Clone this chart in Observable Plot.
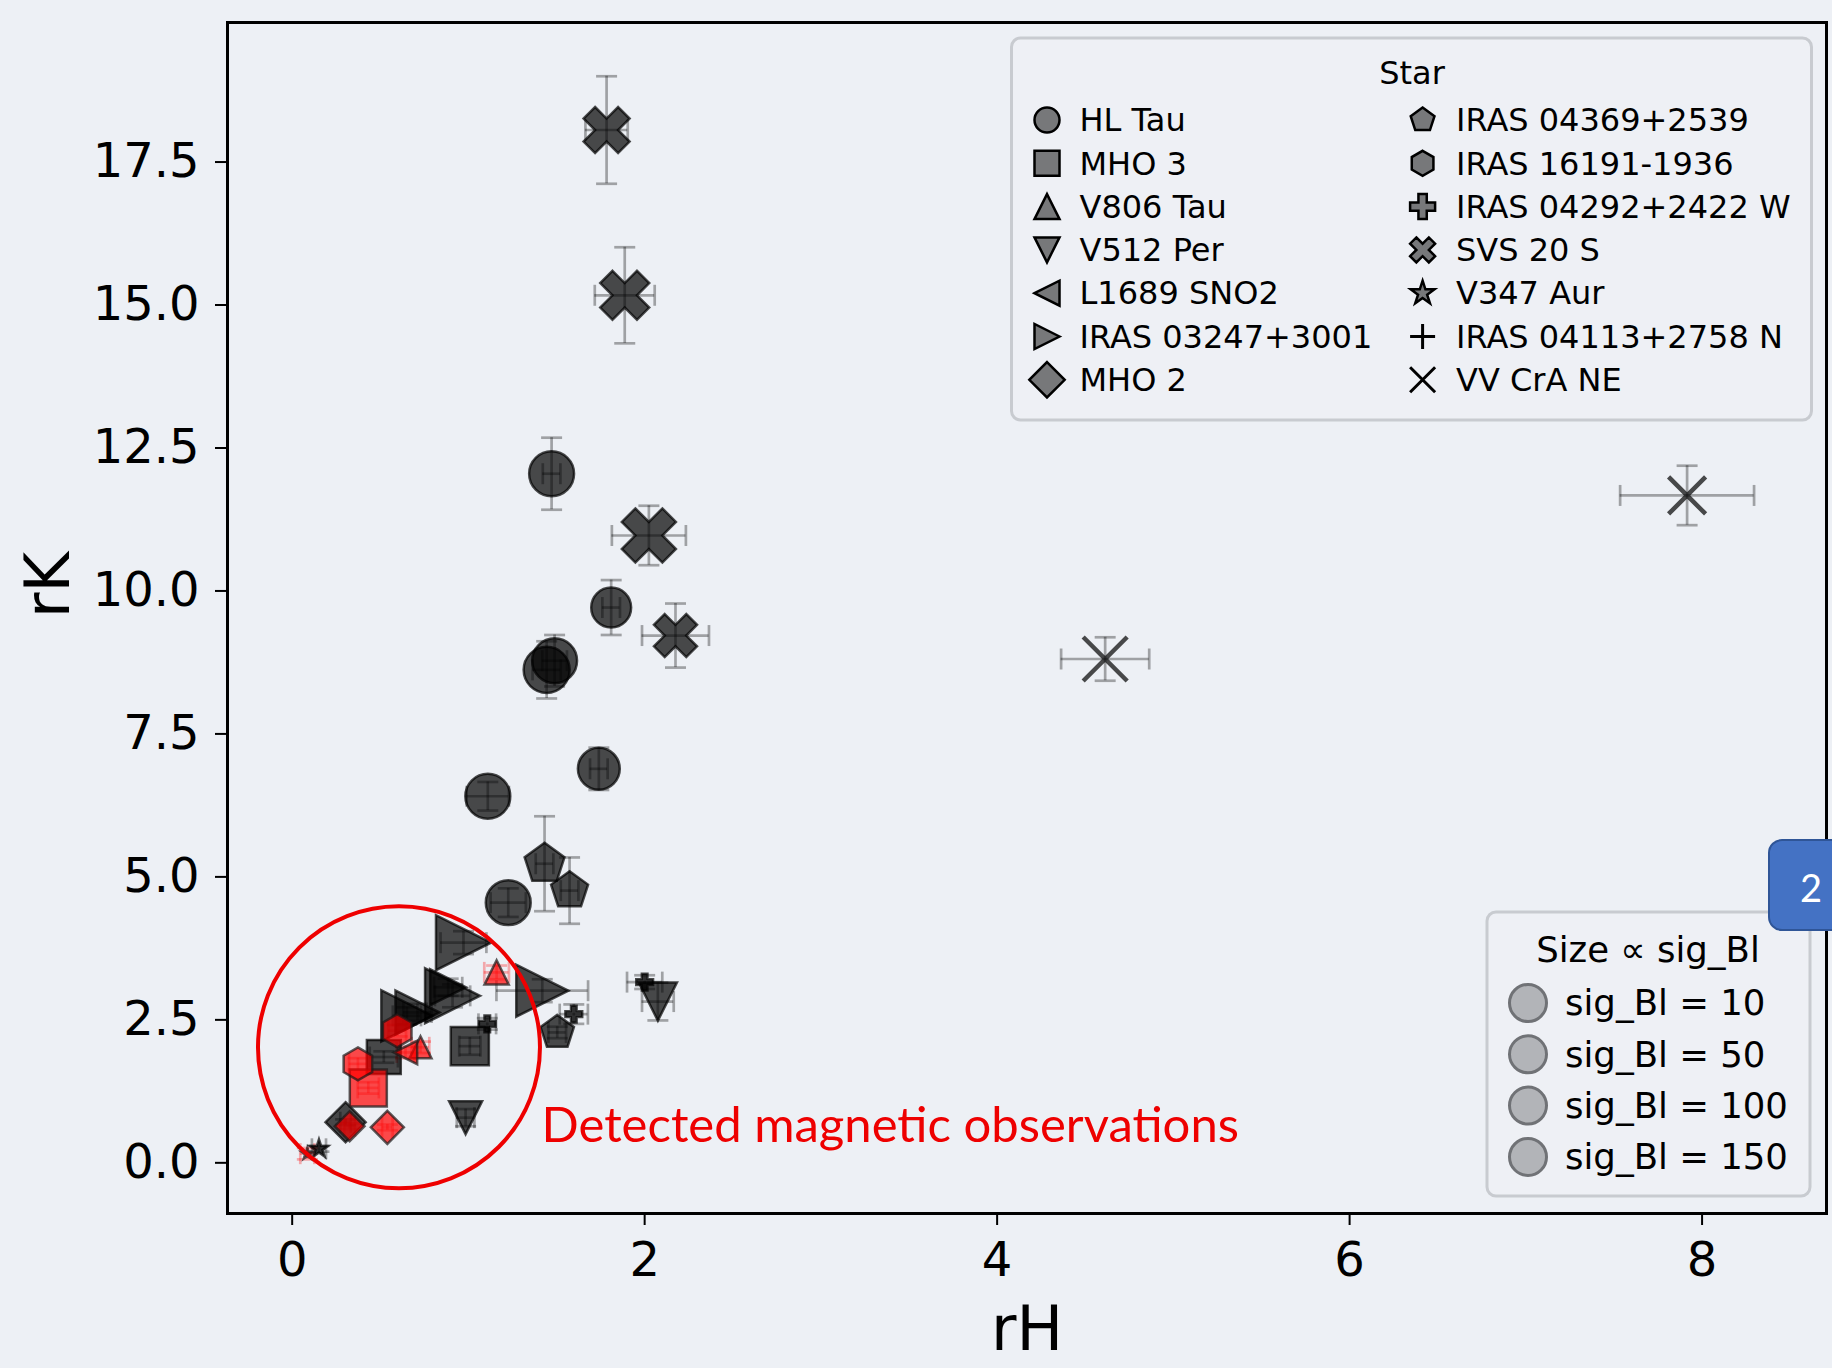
<!DOCTYPE html>
<html>
<head>
<meta charset="utf-8">
<script src="https://cdn.jsdelivr.net/npm/d3@7"></script>
<script src="https://cdn.jsdelivr.net/npm/@observablehq/plot@0.6"></script>
<style>
  html, body { margin: 0; padding: 0; background: #edf0f5; overflow: hidden; }
  #wrap { position: relative; width: 1832px; height: 1368px; }
  #badge { position: absolute; left: 1768px; top: 839px; width: 90px; height: 92px;
    background: #4472c4; border: 2px solid #2f5597; border-radius: 14px; box-sizing: border-box;
    color: #fff; font-family: Lato, sans-serif; font-size: 38px; line-height: 92px; padding-left: 30px; }
</style>
</head>
<body>
<div id="wrap"></div>
<script>
// ---------- data ----------
const stars = ["HL Tau", "MHO 3", "V806 Tau", "V512 Per", "L1689 SNO2", "IRAS 03247+3001", "MHO 2",
  "IRAS 04369+2539", "IRAS 16191-1936", "IRAS 04292+2422 W", "SVS 20 S", "V347 Aur", "IRAS 04113+2758 N", "VV CrA NE"];

const pointStar = [
  "SVS 20 S", "SVS 20 S", "HL Tau", "SVS 20 S", "HL Tau", "SVS 20 S", "HL Tau", "HL Tau", "HL Tau", "HL Tau",
  "IRAS 04369+2539", "IRAS 04369+2539", "HL Tau", "V806 Tau", "IRAS 03247+3001", "IRAS 04292+2422 W",
  "IRAS 04369+2539", "IRAS 04292+2422 W", "V512 Per", "IRAS 03247+3001", "IRAS 03247+3001", "IRAS 03247+3001",
  "IRAS 03247+3001", "IRAS 03247+3001", "IRAS 16191-1936", "V806 Tau", "L1689 SNO2", "MHO 3", "IRAS 16191-1936",
  "MHO 3", "MHO 2", "MHO 2", "MHO 2", "V347 Aur", "V347 Aur", "V512 Per", "MHO 3", "IRAS 04292+2422 W",
  "VV CrA NE", "VV CrA NE"];
const rH = [1.784, 1.887, 1.472, 2.024, 1.810, 2.175, 1.489, 1.444, 1.740, 1.110,
  1.432, 1.574, 1.226, 1.160, 1.419, 1.598, 1.504, 2.000, 2.075, 0.972,
  0.910, 0.885, 0.651, 0.711, 0.596, 0.728, 0.643, 0.520, 0.373, 0.432,
  0.303, 0.326, 0.540, 0.152, 0.086, 0.984, 1.008, 1.107, 4.613, 7.915];
const rK = [18.06, 15.17, 12.05, 10.97, 9.71, 9.22, 8.78, 8.62, 6.89, 6.41,
  5.23, 4.76, 4.55, 3.33, 3.01, 2.60, 2.28, 3.16, 2.82, 3.85,
  2.92, 3.07, 2.57, 2.63, 2.31, 2.02, 1.93, 1.85, 1.73, 1.31,
  0.71, 0.64, 0.62, 0.245, 0.16, 0.79, 2.04, 2.43, 8.81, 11.67];
const rHerr = [0.12, 0.17, 0.05, 0.21, 0.05, 0.19, 0.07, 0.08, 0.05, 0.12,
  0.05, 0.05, 0.10, 0.07, 0.26, 0.08, 0.05, 0.10, 0.09, 0.13,
  0.10, 0.08, 0.08, 0.08, 0.05, 0.05, 0.05, 0.08, 0.05, 0.06,
  0.03, 0.03, 0.03, 0.04, 0.04, 0.05, 0.06, 0.05, 0.25, 0.38];
const rKerr = [0.94, 0.84, 0.63, 0.52, 0.48, 0.56, 0.45, 0.50, 0.37, 0.25,
  0.83, 0.58, 0.25, 0.12, 0.20, 0.17, 0.10, 0.12, 0.33, 0.20,
  0.20, 0.15, 0.15, 0.15, 0.10, 0.10, 0.10, 0.10, 0.10, 0.10,
  0.05, 0.05, 0.05, 0.05, 0.10, 0.15, 0.15, 0.10, 0.38, 0.52];
const sigBl = [105, 119, 100, 145, 79, 92, 100, 105, 87, 100,
  87, 75, 100, 29, 134, 14, 61, 14, 72, 150,
  150, 64, 130, 96, 54, 24, 27, 57, 54, 68,
  40, 22, 27, 18, 7, 54, 72, 14, 96, 68];
const detected = [0, 0, 0, 0, 0, 0, 0, 0, 0, 0,
  0, 0, 0, 1, 0, 0, 0, 0, 0, 0,
  0, 0, 0, 0, 1, 1, 1, 0, 1, 1,
  0, 1, 1, 0, 1, 0, 0, 0, 0, 0];

const sizeLegendValues = [10, 50, 100, 150];
const annotation = [{x: 0.606, y: 2.02, text: "Detected magnetic observations", tx: 1.415, ty: 0.63}];

// ---------- symbols (matplotlib-like markers) ----------
const Rof = s => Math.sqrt(s / Math.PI);
function poly(c, pts) { c.moveTo(pts[0][0], pts[0][1]); for (let i = 1; i < pts.length; i++) c.lineTo(pts[i][0], pts[i][1]); c.closePath(); }
function regular(n, R, inner) {
  const pts = [];
  const m = inner ? 2 * n : n;
  for (let k = 0; k < m; k++) {
    const a = -Math.PI / 2 + k * 2 * Math.PI / m;
    const r = inner && k % 2 ? R * inner : R;
    pts.push([r * Math.cos(a), r * Math.sin(a)]);
  }
  return pts;
}
const SYM = {
  circle: {draw(c, s) { const R = Rof(s); c.moveTo(R, 0); c.arc(0, 0, R, 0, 2 * Math.PI); c.closePath(); }},
  square: {draw(c, s) { const R = Rof(s); poly(c, [[-R, -R], [R, -R], [R, R], [-R, R]]); }},
  triUp: {draw(c, s) { const R = Rof(s); poly(c, [[0, -R], [R, R], [-R, R]]); }},
  triDown: {draw(c, s) { const R = Rof(s); poly(c, [[0, R], [R, -R], [-R, -R]]); }},
  triLeft: {draw(c, s) { const R = Rof(s); poly(c, [[-R, 0], [R, -R], [R, R]]); }},
  triRight: {draw(c, s) { const R = Rof(s); poly(c, [[R, 0], [-R, -R], [-R, R]]); }},
  diamond: {draw(c, s) { const d = Rof(s) * Math.SQRT2; poly(c, [[0, -d], [d, 0], [0, d], [-d, 0]]); }},
  pentagon: {draw(c, s) { poly(c, regular(5, Rof(s))); }},
  hexagon: {draw(c, s) { poly(c, regular(6, Rof(s))); }},
  plusFilled: {draw(c, s) { const R = Rof(s), a = R / 3;
    poly(c, [[-a, -R], [a, -R], [a, -a], [R, -a], [R, a], [a, a], [a, R], [-a, R], [-a, a], [-R, a], [-R, -a], [-a, -a]]); }},
  xFilled: {draw(c, s) { const h = Rof(s) / 2;
    poly(c, [[-1, -2], [0, -1], [1, -2], [2, -1], [1, 0], [2, 1], [1, 2], [0, 1], [-1, 2], [-2, 1], [-1, 0], [-2, -1]].map(([a, b]) => [a * h, b * h])); }},
  star: {draw(c, s) { poly(c, regular(5, Rof(s), 0.381966)); }},
  plus: {draw(c, s) { const R = Rof(s); c.moveTo(-R, 0); c.lineTo(R, 0); c.moveTo(0, -R); c.lineTo(0, R); }},
  x: {draw(c, s) { const R = Rof(s); c.moveTo(-R, -R); c.lineTo(R, R); c.moveTo(-R, R); c.lineTo(R, -R); }},
  hcap: {draw(c, s) { const R = Rof(s); c.moveTo(-R, 0); c.lineTo(R, 0); }},
  vcap: {draw(c, s) { const R = Rof(s); c.moveTo(0, -R); c.lineTo(0, R); }}
};
const starSymbol = ["circle", "square", "triUp", "triDown", "triLeft", "triRight", "diamond",
  "pentagon", "hexagon", "plusFilled", "xFilled", "star", "plus", "x"];
const lineSymbols = new Set(["plus", "x"]);

// ---------- build ----------
const data = pointStar.map((s, i) => ({star: s, rH: rH[i], rK: rK[i], xe: rHerr[i], ye: rKerr[i], sig: sigBl[i], det: !!detected[i]}));

function errMarks(rows, color, op) {
  const common = {stroke: color, strokeOpacity: op, strokeWidth: 2.7};
  return [
    Plot.ruleY(rows, {y: "rK", x1: d => d.rH - d.xe, x2: d => d.rH + d.xe, ...common}),
    Plot.ruleX(rows, {x: "rH", y1: d => d.rK - d.ye, y2: d => d.rK + d.ye, ...common}),
    Plot.dot(rows, {x: d => d.rH - d.xe, y: "rK", r: 10.5, symbol: SYM.vcap, fill: "none", ...common}),
    Plot.dot(rows, {x: d => d.rH + d.xe, y: "rK", r: 10.5, symbol: SYM.vcap, fill: "none", ...common}),
    Plot.dot(rows, {x: "rH", y: d => d.rK - d.ye, r: 10.5, symbol: SYM.hcap, fill: "none", ...common}),
    Plot.dot(rows, {x: "rH", y: d => d.rK + d.ye, r: 10.5, symbol: SYM.hcap, fill: "none", ...common})
  ];
}

function markerMarks(det) {
  const out = [];
  stars.forEach((s, i) => {
    const rows = data.filter(d => d.star === s && d.det === det);
    if (!rows.length) return;
    const key = starSymbol[i];
    if (lineSymbols.has(key)) {
      out.push(Plot.dot(rows, {x: "rH", y: "rK", r: "sig", symbol: SYM[key], fill: "none",
        stroke: det ? "#ff0000" : "#000", strokeOpacity: 0.7, strokeWidth: 4.5}));
    } else {
      out.push(Plot.dot(rows, {x: "rH", y: "rK", r: "sig", symbol: SYM[key],
        fill: det ? "#ff0000" : "#000", fillOpacity: 0.7,
        stroke: det ? "#1a1a1a" : "#000", strokeOpacity: 0.7, strokeWidth: 2.5}));
    }
  });
  return out;
}

const nondet = data.filter(d => !d.det);
const det = data.filter(d => d.det);

const chart = Plot.plot({
  width: 1832,
  height: 1368,
  marginLeft: 227,
  marginRight: 6,
  marginTop: 22,
  marginBottom: 155,
  style: {background: "#edf0f5", fontFamily: "DejaVu Sans", fontSize: "48px", color: "black", overflow: "visible"},
  x: {domain: [-0.367, 8.706], ticks: [0, 2, 4, 6, 8], tickFormat: d3.format("d"), tickSize: 12, tickPadding: 16, label: null},
  y: {domain: [-0.886, 19.94], ticks: [0, 2.5, 5, 7.5, 10, 12.5, 15, 17.5], tickFormat: d3.format(".1f"), tickSize: 12, tickPadding: 16, label: null},
  r: {type: "sqrt", domain: [0, 150], range: [0, 27.5]},
  marks: [
    ...errMarks(nondet, "#000", 0.33),
    ...errMarks(det, "#ff0000", 0.3),
    ...markerMarks(false),
    ...markerMarks(true),
    Plot.dot(annotation, {x: "x", y: "y", r: 141, fill: "none", stroke: "#ee0000", strokeWidth: 4}),
    Plot.text(annotation, {x: "tx", y: "ty", text: "text", textAnchor: "start", fill: "#ee0000", fontSize: 49, fontFamily: "Lato"}),
    Plot.text(["rH"], {text: d => d, frameAnchor: "bottom", dy: 136, fontSize: 62, fill: "black"}),
    Plot.text(["rK"], {text: d => d, frameAnchor: "left", dx: -178, rotate: -90, fontSize: 62, fill: "black"}),
    Plot.frame({stroke: "black", strokeWidth: 3})
  ]
});

document.getElementById("wrap").appendChild(chart);

// tick line widths
const svg = d3.select(chart.tagName.toLowerCase() === "svg" ? chart : chart.querySelector("svg"));
svg.selectAll('[aria-label="x-axis tick"], [aria-label="y-axis tick"]').attr("stroke-width", 2);
svg.selectAll('[aria-label="x-axis"] line, [aria-label="y-axis"] line').attr("stroke-width", 2);

// ---------- legends (drawn into the same svg) ----------
const lg = svg.append("g").attr("font-family", "DejaVu Sans").attr("fill", "black");
lg.append("rect").attr("x", 1011.5).attr("y", 38).attr("width", 800).attr("height", 382).attr("rx", 9)
  .attr("fill", "#edf0f5").attr("fill-opacity", 0.8).attr("stroke", "#c8cbd0").attr("stroke-width", 3);
lg.append("text").attr("x", 1412).attr("y", 73).attr("dy", "0.35em").attr("text-anchor", "middle").attr("font-size", 32).text("Star");
stars.forEach((s, i) => {
  const col = Math.floor(i / 7), row = i % 7;
  const mx = col ? 1422.6 : 1047, tx = col ? 1456 : 1079.5, y = 120 + 43.3 * row;
  const key = starSymbol[i];
  const p = d3.path();
  SYM[key].draw(p, Math.PI * 12.5 * 12.5);
  const path = lg.append("path").attr("transform", `translate(${mx},${y})`).attr("d", p.toString());
  if (lineSymbols.has(key)) path.attr("fill", "none").attr("stroke", "#000").attr("stroke-width", 3);
  else path.attr("fill", "#000").attr("fill-opacity", 0.5).attr("stroke", "#000").attr("stroke-width", 2.5);
  lg.append("text").attr("x", tx).attr("y", y).attr("dy", "0.35em").attr("text-anchor", "start").attr("font-size", 32).text(s);
});

const sg = svg.append("g").attr("font-family", "DejaVu Sans").attr("fill", "black");
sg.append("rect").attr("x", 1487).attr("y", 912).attr("width", 323).attr("height", 284).attr("rx", 9)
  .attr("fill", "#edf0f5").attr("fill-opacity", 0.8).attr("stroke", "#c8cbd0").attr("stroke-width", 3);
sg.append("text").attr("x", 1648).attr("y", 950).attr("dy", "0.35em").attr("text-anchor", "middle").attr("font-size", 35.5).text("Size \u221d sig_Bl");
sizeLegendValues.forEach((v, i) => {
  const y = 1003 + 51.3 * i;
  sg.append("circle").attr("cx", 1528).attr("cy", y).attr("r", 18.5).attr("fill", "#b2b4b8").attr("stroke", "#707276").attr("stroke-width", 3);
  sg.append("text").attr("x", 1565).attr("y", y).attr("dy", "0.35em").attr("text-anchor", "start").attr("font-size", 35.5).text(`sig_Bl = ${v}`);
});

// slide number badge
const badge = document.createElement("div");
badge.id = "badge";
badge.textContent = "2";
document.getElementById("wrap").appendChild(badge);
</script>
</body>
</html>
